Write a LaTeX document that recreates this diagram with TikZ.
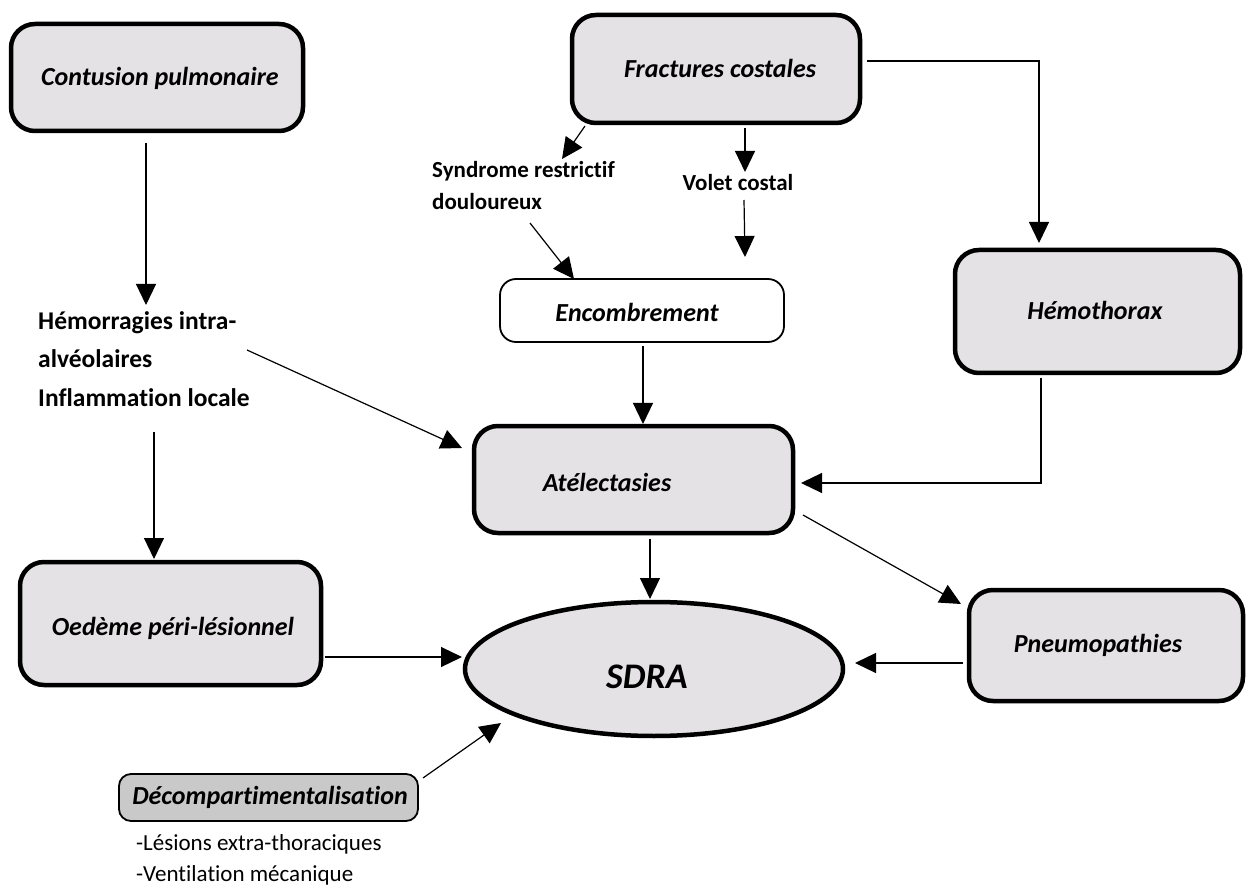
\documentclass[tikz,border=0pt]{standalone}
\usepackage{fontspec}
\setmainfont{Carlito}[Ligatures=NoCommon]
\usetikzlibrary{arrows.meta,calc,shapes.geometric}
\definecolor{boxgrey}{HTML}{E4E2E4}
\definecolor{decgrey}{HTML}{C9C9C9}
\tikzset{
  bigbox/.style={draw=black, line width=4.5pt, fill=boxgrey, rounded corners=24pt, inner sep=0pt,
    font=\fontsize{26}{30}\selectfont\bfseries\itshape},
  thinbox/.style={draw=black, line width=1.8pt, rounded corners=16pt, inner sep=0pt,
    font=\fontsize{26}{30}\selectfont\bfseries\itshape},
  boxtext/.style={inner sep=0pt, font=\fontsize{26}{30}\selectfont\bfseries\itshape},
  freetext/.style={inner sep=0pt, align=left},
  arr/.style={line width=1.2pt, -{Triangle[length=21pt,width=20pt]}},
}
\begin{document}
\begin{tikzpicture}[x=1pt,y=-1pt]
\useasboundingbox (0,0) rectangle (1251,893);
% boxes
\node[bigbox, minimum width=292pt, minimum height=107pt] (cont) at (157,77.5) {};
\node[boxtext] at (160,78) {Contusion pulmonaire};
\node[bigbox, minimum width=288pt, minimum height=108pt] (frac) at (716,69) {};
\node[boxtext] at (720,68) {Fractures costales};
\node[bigbox, minimum width=285pt, minimum height=123pt] (hemo) at (1097.5,311.5) {};
\node[boxtext] at (1095,310) {Hémothorax};
\node[thinbox, fill=white, minimum width=284pt, minimum height=63pt] (enc) at (642,310.5) {};
\node[boxtext] at (637,312) {Encombrement};
\node[bigbox, minimum width=319pt, minimum height=107pt] (atel) at (633.5,479.5) {};
\node[boxtext] at (607,482) {Atélectasies};
\node[bigbox, minimum width=301pt, minimum height=123pt] (oed) at (170.5,623.5) {};
\node[boxtext] at (173,628) {Oedème péri-lésionnel};
\node[bigbox, minimum width=274pt, minimum height=111pt] (pneu) at (1106,645.5) {};
\node[boxtext] at (1098,645) {Pneumopathies};
\node[draw=black, line width=4.5pt, fill=boxgrey, ellipse, inner sep=0pt, minimum width=378pt, minimum height=134pt] (sdra) at (654,669) {};
\node[inner sep=0pt, font=\fontsize{36}{40}\selectfont\bfseries\itshape] at (647,677) {SDRA};
\node[thinbox, fill=decgrey, rounded corners=12pt, minimum width=299pt, minimum height=47pt] (dec) at (268.5,797.5) {};
\node[boxtext] at (270,797) {Décompartimentalisation};
% free texts
\node[freetext, anchor=north west, font=\fontsize{25.5}{38.5}\selectfont\bfseries] (hem) at (38,311) {Hémorragies intra-\\alvéolaires\\Inflammation locale};
\node[freetext, anchor=north west, font=\fontsize{23}{32}\selectfont\bfseries] (synd) at (432,161) {Syndrome restrictif\\douloureux};
\node[inner sep=0pt, font=\fontsize{23}{28}\selectfont\bfseries] (volet) at (738,183) {Volet costal};
\node[freetext, anchor=north west, font=\fontsize{23}{31}\selectfont] (les) at (136,834) {-Lésions extra-thoraciques\\-Ventilation mécanique};
% connector end points
\coordinate (c1s) at (146,143);  \coordinate (c1e) at (146,305);
\coordinate (c2s) at (247,350);  \coordinate (c2e) at (462,448);
\coordinate (c3s) at (154,432);  \coordinate (c3e) at (154,559);
\coordinate (c4s) at (585,126);  \coordinate (c4e) at (562,159);
\coordinate (c5s) at (745,128);  \coordinate (c5e) at (745,172);
\coordinate (c6s) at (744,200);  \coordinate (c6e) at (745,257);
\coordinate (c7s) at (530,223);  \coordinate (c7e) at (574,279);
\coordinate (c8s) at (867,61);   \coordinate (c8e) at (1039,243);
\coordinate (c9s) at (643,346);  \coordinate (c9e) at (643,424);
\coordinate (c10s) at (1041,378); \coordinate (c10e) at (801,483);
\coordinate (c11s) at (650,539); \coordinate (c11e) at (650,599);
\coordinate (c12s) at (803,515); \coordinate (c12e) at (961,604);
\coordinate (c13s) at (325,657); \coordinate (c13e) at (462,657);
\coordinate (c14s) at (963,663); \coordinate (c14e) at (855,663);
\coordinate (c15s) at (423,778); \coordinate (c15e) at (501,723);
% connectors
\draw[arr] (c1s) -- (c1e);
\draw[arr] (c2s) -- (c2e);
\draw[arr] (c3s) -- (c3e);
\draw[arr] (c4s) -- (c4e);
\draw[arr] (c5s) -- (c5e);
\draw[arr] (c6s) -- (c6e);
\draw[arr] (c7s) -- (c7e);
\draw[arr] (c8s) -| (c8e);
\draw[arr] (c9s) -- (c9e);
\draw[arr] (c10s) |- (c10e);
\draw[arr] (c11s) -- (c11e);
\draw[arr] (c12s) -- (c12e);
\draw[arr] (c13s) -- (c13e);
\draw[arr] (c14s) -- (c14e);
\draw[arr] (c15s) -- (c15e);
\end{tikzpicture}
\end{document}
